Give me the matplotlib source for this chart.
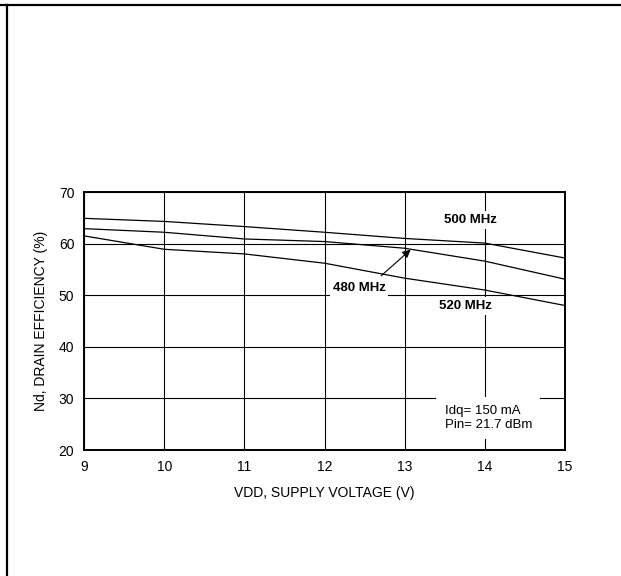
import numpy as np
import matplotlib.pyplot as plt
from matplotlib.lines import Line2D

plt.rcParams['font.family'] = ['Liberation Sans', 'DejaVu Sans']

# supply voltage (V)
vdd = [9, 10, 11, 12, 13, 14, 15]
# drain efficiency (%) per frequency
eff_500 = [64.9, 64.3, 63.3, 62.2, 61.0, 60.1, 57.2]
eff_480 = [62.9, 62.2, 60.9, 60.4, 59.1, 56.6, 53.1]
eff_520 = [61.5, 58.9, 58.0, 56.2, 53.3, 51.0, 48.0]

fig = plt.figure(figsize=(6.21, 5.76), dpi=100)
ax = fig.add_axes([0.1353, 0.21875, 0.7746, 0.4479])

for eff in (eff_500, eff_480, eff_520):
    ax.plot(vdd, eff, color='black', lw=0.9, zorder=3)

ax.set_xlim(9, 15)
ax.set_ylim(20, 70)
ax.set_xticks(range(9, 16))
ax.set_yticks(range(20, 71, 10))
ax.grid(True, color='black', lw=0.8)
ax.set_axisbelow(True)
ax.tick_params(length=0, pad=7, labelsize=10)
for s in ax.spines.values():
    s.set_linewidth(1.4)

ax.set_xlabel('VDD, SUPPLY VOLTAGE (V)', fontsize=10, labelpad=9)
ax.set_ylabel('Nd, DRAIN EFFICIENCY (%)', fontsize=10, labelpad=8)

box = dict(facecolor='white', edgecolor='none', pad=2)
ax.text(13.82, 64.6, '500 MHz', fontsize=9.5, fontweight='bold', ha='center', va='center', bbox=box, zorder=4)
ax.text(12.43, 51.3, '480 MHz', fontsize=9.5, fontweight='bold', ha='center', va='center', bbox=box, zorder=4)
ax.text(13.76, 47.9, '520 MHz', fontsize=9.5, fontweight='bold', ha='center', va='center', bbox=box, zorder=4)
ax.annotate('', xy=(13.10, 59.2), xytext=(12.68, 53.4),
            arrowprops=dict(arrowstyle='-|>', color='black', lw=0.8, mutation_scale=12), zorder=5)

ax.text(13.50, 26.2, 'Idq= 150 mA\nPin= 21.7 dBm', fontsize=9.5, ha='left', va='center',
        linespacing=1.2, bbox=dict(facecolor='white', edgecolor='none', pad=6), zorder=4)

# page frame
fig.add_artist(Line2D([0, 1], [1 - 5 / 576, 1 - 5 / 576], color='black', lw=1.6, transform=fig.transFigure))
fig.add_artist(Line2D([6.5 / 621, 6.5 / 621], [0, 1 - 5 / 576], color='black', lw=1.6, transform=fig.transFigure))

fig.savefig('out.png', dpi=100)
